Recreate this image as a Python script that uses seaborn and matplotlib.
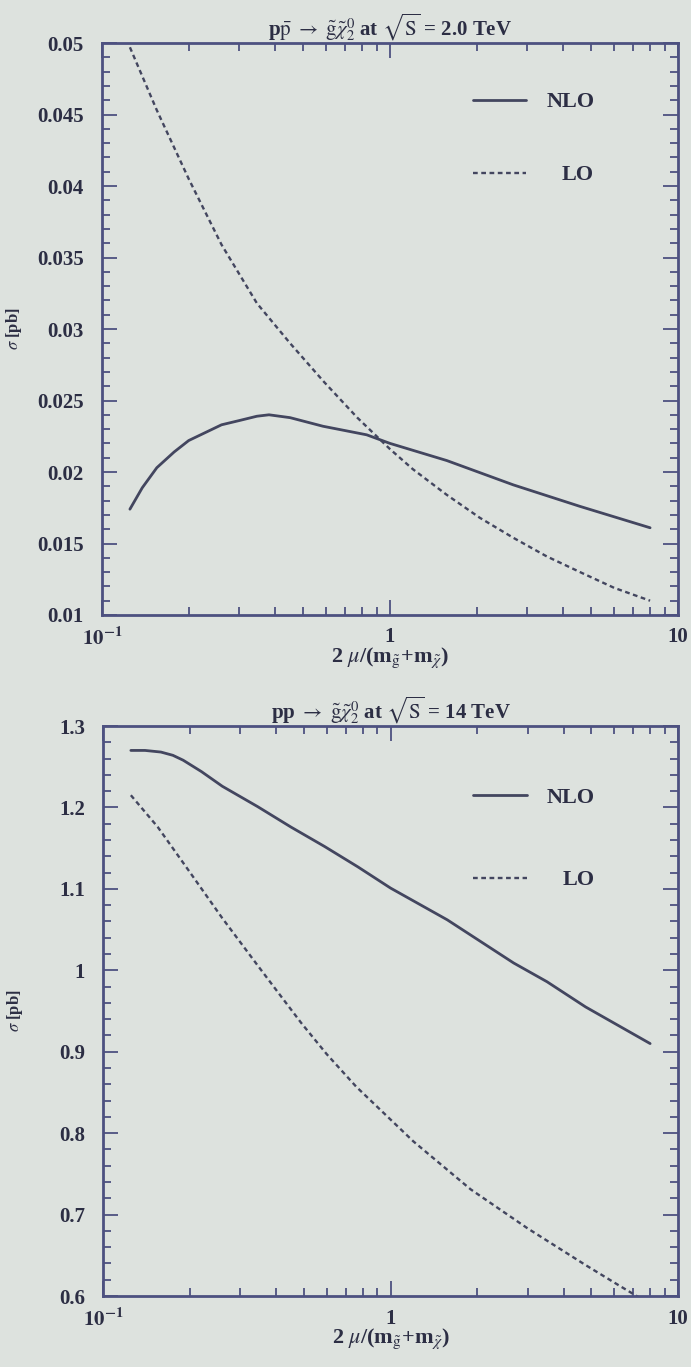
import numpy as np
import pandas as pd
import matplotlib
matplotlib.use("Agg")
import matplotlib.pyplot as plt
import matplotlib.ticker as mticker
import seaborn as sns

# ---------------- data ----------------
top_nlo_x = [0.125, 0.138, 0.155, 0.178, 0.20, 0.26, 0.30, 0.345, 0.38, 0.45, 0.585, 0.83, 1.0, 1.575, 2.68, 4.56, 8.0]
top_nlo_y = [0.0174, 0.0189, 0.0203, 0.0214, 0.0222, 0.0233, 0.0236, 0.0239, 0.0240, 0.0238, 0.0232, 0.0226, 0.0220, 0.0208, 0.0191, 0.0176, 0.0161]
top_lo_x = [0.125, 0.155, 0.20, 0.26, 0.345, 0.45, 0.59, 0.77, 1.0, 1.2, 1.575, 2.05, 2.68, 3.5, 4.57, 6.0, 8.0]
top_lo_y = [0.0497, 0.0453, 0.0405, 0.0359, 0.0318, 0.0290, 0.0263, 0.0238, 0.0216, 0.0202, 0.0184, 0.0168, 0.0154, 0.0141, 0.0130, 0.0119, 0.0110]

bot_nlo_x = [0.125, 0.14, 0.159, 0.175, 0.19, 0.22, 0.26, 0.345, 0.45, 0.59, 0.77, 1.0, 1.575, 2.68, 3.5, 4.77, 8.0]
bot_nlo_y = [1.270, 1.270, 1.268, 1.264, 1.258, 1.244, 1.226, 1.201, 1.176, 1.152, 1.127, 1.101, 1.062, 1.009, 0.986, 0.955, 0.910]
bot_lo_x = [0.125, 0.155, 0.20, 0.26, 0.345, 0.40, 0.49, 0.60, 0.76, 1.2, 1.9, 3.0, 4.77, 6.1, 8.0]
bot_lo_y = [1.215, 1.176, 1.121, 1.064, 1.006, 0.976, 0.935, 0.897, 0.857, 0.790, 0.731, 0.683, 0.638, 0.615, 0.590]

top_yticks = [0.01, 0.015, 0.02, 0.025, 0.03, 0.035, 0.04, 0.045, 0.05]
top_ylabels = ["0.01", "0.015", "0.02", "0.025", "0.03", "0.035", "0.04", "0.045", "0.05"]
bot_yticks = [0.6, 0.7, 0.8, 0.9, 1.0, 1.1, 1.2, 1.3]
bot_ylabels = ["0.6", "0.7", "0.8", "0.9", "1", "1.1", "1.2", "1.3"]
xticks = [0.1, 1, 10]
xlabels = [r"$\mathbf{10^{-1}}$", "1", "10"]

top_title = r"p$\bar{\rm p}$ $\rightarrow$ $\tilde{\rm g}\tilde{\chi}^0_2$ at $\sqrt{\rm S}$ = 2.0 TeV"
bot_title = r"pp $\rightarrow$ $\tilde{\rm g}\tilde{\chi}^0_2$ at $\sqrt{\rm S}$ = 14 TeV"
xlab = r"2 $\mu$/(m$_{\tilde{\rm g}}$+m$_{\tilde{\chi}}$)"
ylab = r"$\sigma$ [pb]"

# ---------------- style ----------------
sns.set_theme(style="ticks")
BG = "#dde2de"
LINE = "#43465f"
FRAME = "#4d5180"
TXT = "#2c2e44"
plt.rcParams["font.family"] = ["Liberation Serif", "DejaVu Serif"]
plt.rcParams["mathtext.fontset"] = "stix"
plt.rcParams["axes.facecolor"] = BG
plt.rcParams["figure.facecolor"] = BG

fig = plt.figure(figsize=(6.91, 13.67), dpi=100)
ax1 = fig.add_axes([102/691, 1-615/1367, 576/691, 572/1367])
ax2 = fig.add_axes([103/691, 1-1296/1367, 575/691, 570/1367])

LEGPROP = {"family": "Liberation Serif", "weight": "bold", "size": 16}

def draw(ax, nx, ny, lx, ly, ylim, yticks, ylabels, yminor, title, y_nlo, y_lo):
    df_n = pd.DataFrame({"x": nx, "y": ny})
    df_l = pd.DataFrame({"x": lx, "y": ly})
    sns.lineplot(data=df_n, x="x", y="y", ax=ax, color=LINE, lw=2.0, label="NLO")
    sns.lineplot(data=df_l, x="x", y="y", ax=ax, color=LINE, lw=1.7, label="LO",
                 linestyle=(0, (2.0, 1.5)))
    ax.set_xscale("log")
    ax.set_xlim(0.1, 10)
    ax.set_ylim(*ylim)
    ax.xaxis.set_major_locator(mticker.FixedLocator(xticks))
    ax.xaxis.set_major_formatter(mticker.FixedFormatter(xlabels))
    ax.xaxis.set_minor_locator(mticker.LogLocator(base=10, subs=np.arange(2, 10)))
    ax.xaxis.set_minor_formatter(mticker.NullFormatter())
    ax.yaxis.set_major_locator(mticker.FixedLocator(yticks))
    ax.yaxis.set_major_formatter(mticker.FixedFormatter(ylabels))
    ax.yaxis.set_minor_locator(mticker.MultipleLocator(yminor))
    ax.tick_params(which="both", direction="in", top=True, right=True, color=FRAME,
                   labelcolor=TXT, width=1.3)
    ax.tick_params(which="major", length=11, labelsize=15)
    ax.tick_params(axis="y", which="major", pad=13)
    ax.tick_params(axis="x", which="major", pad=9)
    ax.tick_params(which="minor", length=6)
    for lab in ax.get_xticklabels() + ax.get_yticklabels():
        lab.set_fontweight("bold")
    for sp in ax.spines.values():
        sp.set_color(FRAME)
        sp.set_linewidth(2.0)
    ax.set_title(title, fontsize=15, fontweight="bold", color=TXT, pad=3)
    ax.set_xlabel(xlab, fontsize=16, fontweight="bold", color=TXT, labelpad=-3)
    ax.set_ylabel(ylab, fontsize=12, fontweight="bold", color=TXT)
    ax.yaxis.set_label_coords(-0.135, 0.5)
    ax.grid(False)
    handles, labels = ax.get_legend_handles_labels()
    leg1 = ax.legend(handles[:1], labels[:1], loc="center left", bbox_to_anchor=(0.644, y_nlo),
                     frameon=False, handlelength=2.4, handletextpad=0.9,
                     borderaxespad=0, borderpad=0, prop=LEGPROP)
    for t in leg1.get_texts():
        t.set_color(TXT)
    ax.add_artist(leg1)
    leg2 = ax.legend(handles[1:2], labels[1:2], loc="center left", bbox_to_anchor=(0.644, y_lo),
                     frameon=False, handlelength=2.4, handletextpad=1.6,
                     borderaxespad=0, borderpad=0, prop=LEGPROP)
    for t in leg2.get_texts():
        t.set_color(TXT)

draw(ax1, top_nlo_x, top_nlo_y, top_lo_x, top_lo_y, (0.01, 0.05), top_yticks, top_ylabels,
     0.001, top_title, (615-102)/572, (615-175)/572)
draw(ax2, bot_nlo_x, bot_nlo_y, bot_lo_x, bot_lo_y, (0.6, 1.3), bot_yticks, bot_ylabels,
     0.02, bot_title, (1296-798)/570, (1296-880)/570)

fig.savefig("out.png", dpi=100, facecolor=BG)
